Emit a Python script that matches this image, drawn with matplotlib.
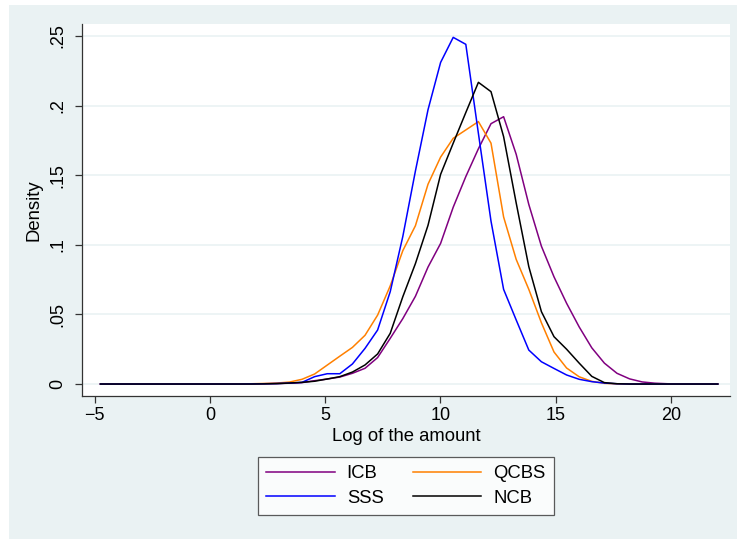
import numpy as np
import matplotlib
matplotlib.use("Agg")
import matplotlib.pyplot as plt
from matplotlib.patches import Rectangle

plt.rcParams['font.family'] = ['Liberation Sans', 'DejaVu Sans']

# kdensity evaluation grid (50 points)
grid_start = -4.75
grid_end = 22.03
n_points = 50

icb = [0, 0, 0, 0, 0, 0, 0, 0, 0, 0,
       0, 0, 0, 0.0002, 0.0003, 0.0006, 0.001, 0.0024, 0.0036, 0.005,
       0.0077, 0.0113, 0.019, 0.0328, 0.047, 0.063, 0.084, 0.101, 0.127, 0.149,
       0.169, 0.187, 0.192, 0.165, 0.129, 0.099, 0.077, 0.058, 0.041, 0.026,
       0.015, 0.0077, 0.0037, 0.0015, 0.0006, 0.0002, 0, 0, 0, 0]

qcbs = [0, 0, 0, 0, 0, 0, 0, 0, 0, 0,
        0, 0.0001, 0.0002, 0.0004, 0.0007, 0.0014, 0.0034, 0.0072, 0.0136, 0.020,
        0.0263, 0.035, 0.0495, 0.0705, 0.0958, 0.1137, 0.1435, 0.163, 0.1765, 0.1825,
        0.1885, 0.173, 0.120, 0.0895, 0.068, 0.044, 0.023, 0.0115, 0.0052, 0.0019,
        0.0005, 0.0001, 0, 0, 0, 0, 0, 0, 0, 0]

sss = [0, 0, 0, 0, 0, 0, 0, 0, 0, 0,
       0, 0, 0.0001, 0.0002, 0.0004, 0.0007, 0.0012, 0.0053, 0.0074, 0.0074,
       0.0144, 0.0256, 0.0388, 0.0663, 0.106, 0.153, 0.197, 0.231, 0.249, 0.244,
       0.180, 0.117, 0.068, 0.046, 0.0244, 0.016, 0.0112, 0.0065, 0.0034, 0.0017,
       0.0007, 0.0002, 0, 0, 0, 0, 0, 0, 0, 0]

ncb = [0, 0, 0, 0, 0, 0, 0, 0, 0, 0,
       0, 0, 0, 0.0001, 0.0003, 0.0007, 0.0012, 0.002, 0.0036, 0.0053,
       0.0086, 0.0137, 0.0216, 0.0364, 0.0627, 0.0865, 0.114, 0.1506, 0.173, 0.195,
       0.2167, 0.210, 0.1777, 0.130, 0.0843, 0.052, 0.034, 0.025, 0.015, 0.0055,
       0.001, 0.0002, 0, 0, 0, 0, 0, 0, 0, 0]

xticks = [-5, 0, 5, 10, 15, 20]
xticklabels = ['\u22125', '0', '5', '10', '15', '20']
yticks = [0, 0.05, 0.1, 0.15, 0.2, 0.25]
yticklabels = ['0', '.05', '.1', '.15', '.2', '.25']

x = np.linspace(grid_start, grid_end, n_points)

bg = '#eaf2f3'
fig = plt.figure(figsize=(7.37, 5.39), dpi=100)
fig.patch.set_facecolor('white')
fig.patches.append(Rectangle((9 / 737, 0), 1 - 9 / 737, 1 - 5 / 539,
                             transform=fig.transFigure, facecolor=bg,
                             edgecolor='none', zorder=-10))

ax = fig.add_axes([82 / 737, 143 / 539, 648 / 737, 372 / 539])
ax.set_facecolor('white')

ax.plot(x, icb, color='#800080', lw=1.1, label='ICB')
ax.plot(x, qcbs, color='#ff8000', lw=1.1, label='QCBS')
ax.plot(x, sss, color='#0000ff', lw=1.1, label='SSS')
ax.plot(x, ncb, color='black', lw=1.1, label='NCB')

ax.set_xlim(-5.55, 22.56)
ax.set_ylim(-0.0086, 0.2586)

ax.set_xticks(xticks)
ax.set_xticklabels(xticklabels, fontsize=13)
ax.set_yticks(yticks)
ax.set_yticklabels(yticklabels, fontsize=13, rotation=90, va='center')

ax.yaxis.grid(True, color=bg, lw=1.2)
ax.set_axisbelow(True)

for s in ['top', 'right']:
    ax.spines[s].set_visible(False)
for s in ['left', 'bottom']:
    ax.spines[s].set_color('#333333')
    ax.spines[s].set_linewidth(0.9)
ax.tick_params(direction='out', length=5, width=0.9, color='#333333')
ax.tick_params(axis='x', pad=3)
ax.tick_params(axis='y', pad=6)

ax.set_xlabel('Log of the amount', fontsize=13.3, labelpad=3)
ax.set_ylabel('Density', fontsize=13.3, labelpad=5)

# legend order as in the original: ICB, QCBS / SSS, NCB
handles, labels = ax.get_legend_handles_labels()
order = [0, 2, 1, 3]
leg = ax.legend([handles[i] for i in order], [labels[i] for i in order],
                ncol=2, loc='upper center', bbox_to_anchor=(0.5, -0.164),
                borderaxespad=0, fontsize=13.3, frameon=True, fancybox=False,
                edgecolor='#333333', handlelength=3.7, handletextpad=0.65,
                columnspacing=1.6, labelspacing=0.4, borderpad=0.45)
leg.get_frame().set_linewidth(0.9)

fig.savefig('out.png', dpi=100, facecolor=fig.get_facecolor())
